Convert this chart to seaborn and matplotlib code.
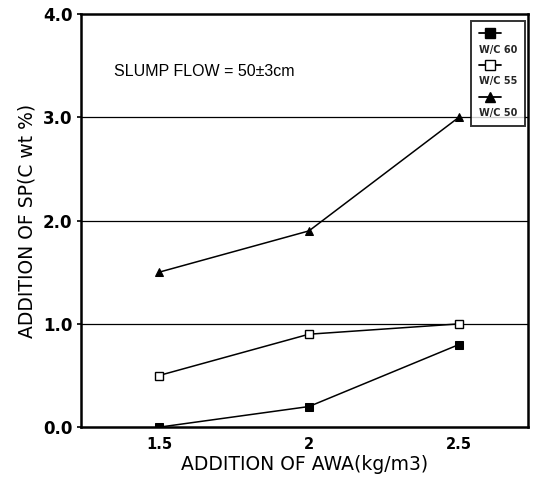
import matplotlib
matplotlib.use("Agg")
import matplotlib.pyplot as plt
from matplotlib.lines import Line2D
import seaborn as sns
import pandas as pd

awa = [1.5, 2.0, 2.5]
sp_wc60 = [0.0, 0.2, 0.8]
sp_wc55 = [0.5, 0.9, 1.0]
sp_wc50 = [1.5, 1.9, 3.0]
series_names = ["W/C 60", "W/C 55", "W/C 50"]
y_ticks = [0.0, 1.0, 2.0, 3.0, 4.0]
y_tick_labels = ["0.0", "1.0", "2.0", "3.0", "4.0"]
x_ticks = [1.5, 2.0, 2.5]
x_tick_labels = ["1.5", "2", "2.5"]

sns.set_theme(style="white")
plt.rcParams["font.family"] = ["DejaVu Sans"]

df = pd.DataFrame({
    "awa": awa * 3,
    "sp": sp_wc60 + sp_wc55 + sp_wc50,
    "series": [s for s in series_names for _ in awa],
})

fig = plt.figure(figsize=(5.36, 4.8), dpi=100)
ax = fig.add_axes([0.151, 0.110, 0.834, 0.861])

# horizontal reference lines at the inner major ticks
for yv in y_ticks[1:-1]:
    ax.axhline(yv, color="black", lw=0.9, zorder=1)

markers = {"W/C 60": "s", "W/C 55": "s", "W/C 50": "^"}
sns.lineplot(data=df, x="awa", y="sp", style="series", markers=markers,
             dashes=False, color="black", lw=1.1, markersize=6,
             legend=False, ax=ax, zorder=3)

# open squares for the W/C 55 series
for line in ax.get_lines():
    ys = list(line.get_ydata())
    if ys == sp_wc55:
        line.set_markerfacecolor("white")
        line.set_markeredgecolor("black")
        line.set_markeredgewidth(1.0)
    elif len(ys) == 3:
        line.set_markerfacecolor("black")
        line.set_markeredgecolor("black")

ax.set_xlim(1.24, 2.73)
ax.set_ylim(0, 4.0)
ax.set_xticks(x_ticks)
ax.set_xticklabels(x_tick_labels)
ax.set_yticks(y_ticks)
ax.set_yticklabels(y_tick_labels)
ax.tick_params(axis="x", direction="in", length=4, width=1.2, labelsize=10.5,
               colors="black", pad=7)
ax.tick_params(axis="y", direction="out", length=3, width=1.2, labelsize=12,
               colors="black", left=True, pad=3)
for lab in ax.get_yticklabels() + ax.get_xticklabels():
    lab.set_fontweight("bold")
for sp in ax.spines.values():
    sp.set_color("black")
    sp.set_linewidth(1.8)

ax.set_xlabel("ADDITION OF AWA(kg/m3)", fontsize=13.5, color="black", labelpad=2)
ax.set_ylabel("ADDITION OF SP(C wt %)", fontsize=13.5, color="black", labelpad=5)

ax.text(1.35, 3.44, "SLUMP FLOW = 50±3cm", fontsize=11.5, color="black",
        va="center", ha="left", family=["Liberation Sans", "DejaVu Sans"])

# legend: marker line above each label
handles, labels = [], []
blank = Line2D([], [], linestyle="none", marker=None)
for name in series_names:
    face = "white" if name == "W/C 55" else "black"
    mk = "^" if name == "W/C 50" else "s"
    handles.append(Line2D([], [], color="black", lw=1.3, marker=mk,
                          markersize=6.5, markerfacecolor=face,
                          markeredgecolor="black"))
    labels.append("")
    handles.append(blank)
    labels.append(name)
leg = ax.legend(handles, labels, loc="upper right", bbox_to_anchor=(1.0, 0.99),
                borderaxespad=0.3,
                fontsize=7, handlelength=2.3, handletextpad=-2.3,
                labelspacing=0.6, borderpad=0.8, frameon=True, fancybox=False)
leg.get_frame().set_edgecolor("black")
leg.get_frame().set_linewidth(1.4)
for t in leg.get_texts():
    t.set_fontweight("bold")

fig.savefig("out.png", dpi=100)
